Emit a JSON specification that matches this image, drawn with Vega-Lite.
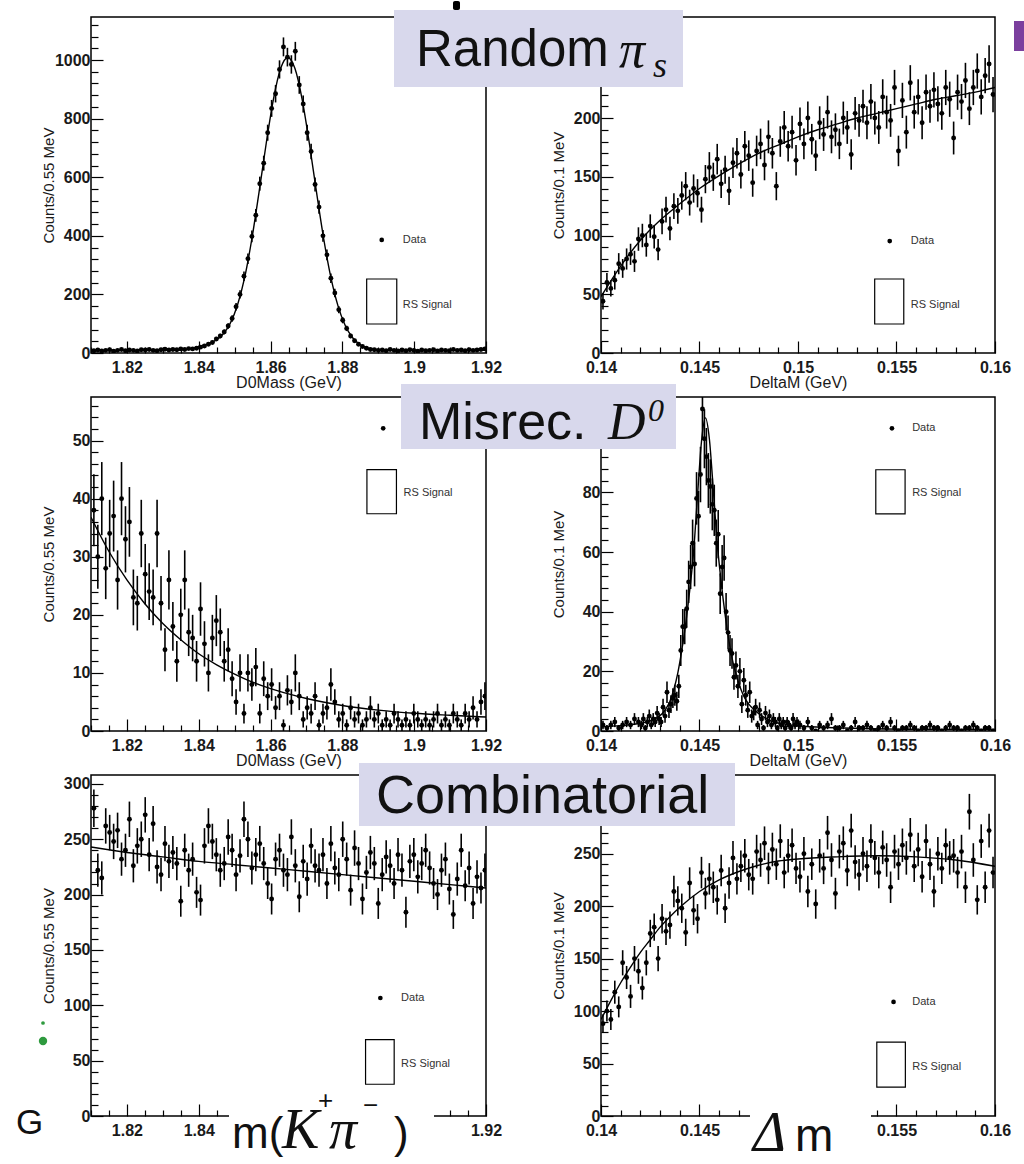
{
"$schema": "https://vega.github.io/schema/vega-lite/v6.json",
"padding": {"left": 15, "top": 0, "right": 0, "bottom": 0},
"background": "white",
"columns": 2,
"spacing": {"row": 44, "column": 115},
"bounds": "flush",
"datasets": {
"d1": [{"x":1.8108,"y":8,"e":2.8},{"x":1.8119,"y":10,"e":3.2},{"x":1.813,"y":7,"e":2.6},{"x":1.8141,"y":9,"e":3},{"x":1.8152,"y":11,"e":3.3},{"x":1.8163,"y":6,"e":2.4},{"x":1.8174,"y":9,"e":3},{"x":1.8185,"y":12,"e":3.5},{"x":1.8196,"y":8,"e":2.8},{"x":1.8207,"y":10,"e":3.2},{"x":1.8218,"y":9,"e":3},{"x":1.8229,"y":7,"e":2.6},{"x":1.824,"y":11,"e":3.3},{"x":1.8251,"y":10,"e":3.2},{"x":1.8262,"y":12,"e":3.5},{"x":1.8273,"y":9,"e":3},{"x":1.8284,"y":8,"e":2.8},{"x":1.8295,"y":11,"e":3.3},{"x":1.8306,"y":13,"e":3.6},{"x":1.8317,"y":10,"e":3.2},{"x":1.8328,"y":12,"e":3.5},{"x":1.8339,"y":11,"e":3.3},{"x":1.835,"y":14,"e":3.7},{"x":1.8361,"y":12,"e":3.5},{"x":1.8372,"y":15,"e":3.9},{"x":1.8383,"y":14,"e":3.7},{"x":1.8394,"y":16,"e":4},{"x":1.8405,"y":20,"e":4.5},{"x":1.8416,"y":24,"e":4.9},{"x":1.8427,"y":30,"e":5.5},{"x":1.8438,"y":36,"e":6},{"x":1.8449,"y":48,"e":6.9},{"x":1.846,"y":58,"e":7.6},{"x":1.8471,"y":72,"e":8.5},{"x":1.8482,"y":92,"e":9.6},{"x":1.8493,"y":118,"e":10.9},{"x":1.8504,"y":158,"e":12.6},{"x":1.8515,"y":200,"e":14.1},{"x":1.8526,"y":262,"e":16.2},{"x":1.8537,"y":322,"e":17.9},{"x":1.8548,"y":398,"e":19.9},{"x":1.8559,"y":470,"e":21.7},{"x":1.857,"y":578,"e":24},{"x":1.8581,"y":648,"e":25.5},{"x":1.8592,"y":752,"e":27.4},{"x":1.8603,"y":835,"e":28.9},{"x":1.8614,"y":885,"e":29.7},{"x":1.8625,"y":968,"e":31.1},{"x":1.8636,"y":1045,"e":32.3},{"x":1.8647,"y":1010,"e":31.8},{"x":1.8658,"y":985,"e":31.4},{"x":1.8669,"y":1030,"e":32.1},{"x":1.868,"y":915,"e":30.2},{"x":1.8691,"y":850,"e":29.2},{"x":1.8702,"y":752,"e":27.4},{"x":1.8713,"y":688,"e":26.2},{"x":1.8724,"y":575,"e":24},{"x":1.8735,"y":498,"e":22.3},{"x":1.8746,"y":400,"e":20},{"x":1.8757,"y":335,"e":18.3},{"x":1.8768,"y":255,"e":16},{"x":1.8779,"y":205,"e":14.3},{"x":1.879,"y":148,"e":12.2},{"x":1.8801,"y":112,"e":10.6},{"x":1.8812,"y":84,"e":9.2},{"x":1.8823,"y":58,"e":7.6},{"x":1.8834,"y":42,"e":6.5},{"x":1.8845,"y":30,"e":5.5},{"x":1.8856,"y":22,"e":4.7},{"x":1.8867,"y":16,"e":4},{"x":1.8878,"y":12,"e":3.5},{"x":1.8889,"y":11,"e":3.3},{"x":1.89,"y":9,"e":3},{"x":1.8911,"y":10,"e":3.2},{"x":1.8922,"y":8,"e":2.8},{"x":1.8933,"y":12,"e":3.5},{"x":1.8944,"y":9,"e":3},{"x":1.8955,"y":7,"e":2.6},{"x":1.8966,"y":10,"e":3.2},{"x":1.8977,"y":8,"e":2.8},{"x":1.8988,"y":11,"e":3.3},{"x":1.8999,"y":9,"e":3},{"x":1.901,"y":6,"e":2.4},{"x":1.9021,"y":10,"e":3.2},{"x":1.9032,"y":8,"e":2.8},{"x":1.9043,"y":9,"e":3},{"x":1.9054,"y":11,"e":3.3},{"x":1.9065,"y":7,"e":2.6},{"x":1.9076,"y":10,"e":3.2},{"x":1.9087,"y":9,"e":3},{"x":1.9098,"y":8,"e":2.8},{"x":1.9109,"y":12,"e":3.5},{"x":1.912,"y":9,"e":3},{"x":1.9131,"y":10,"e":3.2},{"x":1.9142,"y":8,"e":2.8},{"x":1.9153,"y":11,"e":3.3},{"x":1.9164,"y":9,"e":3},{"x":1.9175,"y":10,"e":3.2},{"x":1.9186,"y":12,"e":3.5},{"x":1.9197,"y":14,"e":3.7}],
"f1": [{"x":1.81,"y":9},{"x":1.83,"y":9},{"x":1.836,"y":11},{"x":1.8408,"y":25},{"x":1.8428,"y":32},{"x":1.8448,"y":44},{"x":1.8468,"y":65},{"x":1.8488,"y":102},{"x":1.8508,"y":164},{"x":1.8528,"y":258},{"x":1.8548,"y":390},{"x":1.8568,"y":549},{"x":1.8588,"y":716},{"x":1.8608,"y":866},{"x":1.8628,"y":971},{"x":1.8648,"y":1009},{"x":1.8668,"y":971},{"x":1.8688,"y":866},{"x":1.8708,"y":716},{"x":1.8728,"y":549},{"x":1.8748,"y":390},{"x":1.8768,"y":258},{"x":1.8788,"y":160},{"x":1.8808,"y":94},{"x":1.8828,"y":53},{"x":1.8848,"y":30},{"x":1.8868,"y":18},{"x":1.8888,"y":13},{"x":1.8918,"y":10},{"x":1.9,"y":9},{"x":1.92,"y":9}],
"d2": [{"x":0.1401,"y":44,"e":7},{"x":0.1403,"y":60,"e":8},{"x":0.1405,"y":55,"e":7},{"x":0.1407,"y":62,"e":8},{"x":0.1409,"y":76,"e":9},{"x":0.1411,"y":72,"e":8},{"x":0.1413,"y":80,"e":9},{"x":0.1415,"y":84,"e":9},{"x":0.1417,"y":78,"e":9},{"x":0.1419,"y":97,"e":10},{"x":0.1421,"y":100,"e":10},{"x":0.1423,"y":92,"e":10},{"x":0.1425,"y":108,"e":10},{"x":0.1427,"y":99,"e":10},{"x":0.1429,"y":88,"e":9},{"x":0.1431,"y":112,"e":11},{"x":0.1433,"y":122,"e":11},{"x":0.1435,"y":106,"e":10},{"x":0.1437,"y":125,"e":11},{"x":0.1439,"y":121,"e":11},{"x":0.1441,"y":134,"e":12},{"x":0.1443,"y":142,"e":12},{"x":0.1445,"y":128,"e":11},{"x":0.1447,"y":140,"e":12},{"x":0.1449,"y":136,"e":12},{"x":0.1451,"y":122,"e":11},{"x":0.1453,"y":148,"e":12},{"x":0.1455,"y":158,"e":13},{"x":0.1457,"y":150,"e":12},{"x":0.1459,"y":165,"e":13},{"x":0.1461,"y":144,"e":12},{"x":0.1463,"y":156,"e":12},{"x":0.1465,"y":138,"e":12},{"x":0.1467,"y":162,"e":13},{"x":0.1469,"y":170,"e":13},{"x":0.1471,"y":152,"e":12},{"x":0.1473,"y":176,"e":13},{"x":0.1475,"y":168,"e":13},{"x":0.1477,"y":145,"e":12},{"x":0.1479,"y":172,"e":13},{"x":0.1481,"y":178,"e":13},{"x":0.1483,"y":160,"e":13},{"x":0.1485,"y":184,"e":14},{"x":0.1487,"y":170,"e":13},{"x":0.1489,"y":142,"e":12},{"x":0.1491,"y":180,"e":13},{"x":0.1493,"y":192,"e":14},{"x":0.1495,"y":176,"e":13},{"x":0.1497,"y":188,"e":14},{"x":0.1499,"y":164,"e":13},{"x":0.1501,"y":195,"e":14},{"x":0.1503,"y":178,"e":13},{"x":0.1505,"y":200,"e":14},{"x":0.1507,"y":182,"e":13},{"x":0.1509,"y":168,"e":13},{"x":0.1511,"y":196,"e":14},{"x":0.1513,"y":186,"e":14},{"x":0.1515,"y":205,"e":14},{"x":0.1517,"y":184,"e":14},{"x":0.1519,"y":190,"e":14},{"x":0.1521,"y":178,"e":13},{"x":0.1523,"y":200,"e":14},{"x":0.1525,"y":192,"e":14},{"x":0.1527,"y":169,"e":13},{"x":0.1529,"y":204,"e":14},{"x":0.1531,"y":198,"e":14},{"x":0.1533,"y":210,"e":14},{"x":0.1535,"y":196,"e":14},{"x":0.1537,"y":214,"e":15},{"x":0.1539,"y":200,"e":14},{"x":0.1541,"y":192,"e":14},{"x":0.1543,"y":218,"e":15},{"x":0.1545,"y":205,"e":14},{"x":0.1547,"y":198,"e":14},{"x":0.1549,"y":226,"e":15},{"x":0.1551,"y":172,"e":13},{"x":0.1553,"y":215,"e":15},{"x":0.1555,"y":188,"e":14},{"x":0.1557,"y":230,"e":15},{"x":0.1559,"y":205,"e":14},{"x":0.1561,"y":218,"e":15},{"x":0.1563,"y":196,"e":14},{"x":0.1565,"y":222,"e":15},{"x":0.1567,"y":210,"e":14},{"x":0.1569,"y":224,"e":15},{"x":0.1571,"y":212,"e":15},{"x":0.1573,"y":204,"e":14},{"x":0.1575,"y":226,"e":15},{"x":0.1577,"y":216,"e":15},{"x":0.1579,"y":183,"e":14},{"x":0.1581,"y":222,"e":15},{"x":0.1583,"y":214,"e":15},{"x":0.1585,"y":232,"e":15},{"x":0.1587,"y":208,"e":14},{"x":0.1589,"y":226,"e":15},{"x":0.1591,"y":240,"e":15},{"x":0.1593,"y":218,"e":15},{"x":0.1595,"y":236,"e":15},{"x":0.1597,"y":246,"e":16},{"x":0.1599,"y":220,"e":15}],
"f2": [{"x":0.14,"y":48},{"x":0.141,"y":74},{"x":0.142,"y":96},{"x":0.143,"y":113},{"x":0.144,"y":127},{"x":0.145,"y":140},{"x":0.146,"y":151},{"x":0.147,"y":161},{"x":0.148,"y":170},{"x":0.149,"y":177},{"x":0.15,"y":184},{"x":0.151,"y":190},{"x":0.152,"y":195},{"x":0.153,"y":200},{"x":0.154,"y":204},{"x":0.155,"y":208},{"x":0.156,"y":212},{"x":0.157,"y":216},{"x":0.158,"y":219},{"x":0.159,"y":222},{"x":0.16,"y":226}],
"d3": [{"x":1.8108,"y":38,"e":6.2},{"x":1.8119,"y":30,"e":5.5},{"x":1.813,"y":40,"e":6.3},{"x":1.8141,"y":28,"e":5.3},{"x":1.8152,"y":34,"e":5.8},{"x":1.8163,"y":37,"e":6.1},{"x":1.8174,"y":26,"e":5.1},{"x":1.8185,"y":40,"e":6.3},{"x":1.8196,"y":33,"e":5.7},{"x":1.8207,"y":36,"e":6},{"x":1.8218,"y":23,"e":4.8},{"x":1.8229,"y":22,"e":4.7},{"x":1.824,"y":34,"e":5.8},{"x":1.8251,"y":27,"e":5.2},{"x":1.8262,"y":24,"e":4.9},{"x":1.8273,"y":23,"e":4.8},{"x":1.8284,"y":34,"e":5.8},{"x":1.8295,"y":22,"e":4.7},{"x":1.8306,"y":14,"e":3.7},{"x":1.8317,"y":26,"e":5.1},{"x":1.8328,"y":18,"e":4.2},{"x":1.8339,"y":12,"e":3.5},{"x":1.835,"y":20,"e":4.5},{"x":1.8361,"y":26,"e":5.1},{"x":1.8372,"y":17,"e":4.1},{"x":1.8383,"y":16,"e":4},{"x":1.8394,"y":12,"e":3.5},{"x":1.8405,"y":21,"e":4.6},{"x":1.8416,"y":15,"e":3.9},{"x":1.8427,"y":10,"e":3.2},{"x":1.8438,"y":16,"e":4},{"x":1.8449,"y":19,"e":4.4},{"x":1.846,"y":17,"e":4.1},{"x":1.8471,"y":12,"e":3.5},{"x":1.8482,"y":14,"e":3.7},{"x":1.8493,"y":9,"e":3},{"x":1.8504,"y":5,"e":2.2},{"x":1.8515,"y":10,"e":3.2},{"x":1.8526,"y":3,"e":1.7},{"x":1.8537,"y":10,"e":3.2},{"x":1.8548,"y":8,"e":2.8},{"x":1.8559,"y":11,"e":3.3},{"x":1.857,"y":3,"e":1.7},{"x":1.8581,"y":9,"e":3},{"x":1.8592,"y":6,"e":2.4},{"x":1.8603,"y":8,"e":2.8},{"x":1.8614,"y":4,"e":2},{"x":1.8625,"y":6,"e":2.4},{"x":1.8636,"y":1,"e":1},{"x":1.8647,"y":7,"e":2.6},{"x":1.8658,"y":5,"e":2.2},{"x":1.8669,"y":10,"e":3.2},{"x":1.868,"y":6,"e":2.4},{"x":1.8691,"y":2,"e":1.4},{"x":1.8702,"y":4,"e":2},{"x":1.8713,"y":3,"e":1.7},{"x":1.8724,"y":6,"e":2.4},{"x":1.8735,"y":1,"e":1},{"x":1.8746,"y":3,"e":1.7},{"x":1.8757,"y":4,"e":2},{"x":1.8768,"y":8,"e":2.8},{"x":1.8779,"y":5,"e":2.2},{"x":1.879,"y":2,"e":1.4},{"x":1.8801,"y":3,"e":1.7},{"x":1.8812,"y":1,"e":1},{"x":1.8823,"y":4,"e":2},{"x":1.8834,"y":2,"e":1.4},{"x":1.8845,"y":3,"e":1.7},{"x":1.8856,"y":1,"e":1},{"x":1.8867,"y":2,"e":1.4},{"x":1.8878,"y":4,"e":2},{"x":1.8889,"y":2,"e":1.4},{"x":1.89,"y":3,"e":1.7},{"x":1.8911,"y":1,"e":1},{"x":1.8922,"y":2,"e":1.4},{"x":1.8933,"y":1,"e":1},{"x":1.8944,"y":3,"e":1.7},{"x":1.8955,"y":2,"e":1.4},{"x":1.8966,"y":1,"e":1},{"x":1.8977,"y":2,"e":1.4},{"x":1.8988,"y":1,"e":1},{"x":1.8999,"y":3,"e":1.7},{"x":1.901,"y":2,"e":1.4},{"x":1.9021,"y":1,"e":1},{"x":1.9032,"y":2,"e":1.4},{"x":1.9043,"y":1,"e":1},{"x":1.9054,"y":2,"e":1.4},{"x":1.9065,"y":3,"e":1.7},{"x":1.9076,"y":1,"e":1},{"x":1.9087,"y":2,"e":1.4},{"x":1.9098,"y":1,"e":1},{"x":1.9109,"y":3,"e":1.7},{"x":1.912,"y":2,"e":1.4},{"x":1.9131,"y":1,"e":1},{"x":1.9142,"y":3,"e":1.7},{"x":1.9153,"y":2,"e":1.4},{"x":1.9164,"y":4,"e":2},{"x":1.9175,"y":2,"e":1.4},{"x":1.9186,"y":5,"e":2.2},{"x":1.9197,"y":6,"e":2.4}],
"f3": [{"x":1.81,"y":36.8},{"x":1.815,"y":30.9},{"x":1.82,"y":26},{"x":1.825,"y":21.9},{"x":1.83,"y":18.5},{"x":1.835,"y":15.7},{"x":1.84,"y":13.3},{"x":1.845,"y":11.4},{"x":1.85,"y":9.8},{"x":1.855,"y":8.4},{"x":1.86,"y":7.3},{"x":1.865,"y":6.4},{"x":1.87,"y":5.6},{"x":1.88,"y":4.4},{"x":1.89,"y":3.6},{"x":1.9,"y":3.05},{"x":1.91,"y":2.7},{"x":1.92,"y":2.4}],
"d4": [{"x":0.1401,"y":2,"e":1.4},{"x":0.1403,"y":1,"e":1},{"x":0.1405,"y":2,"e":1.4},{"x":0.1407,"y":3,"e":1.7},{"x":0.1409,"y":1,"e":1},{"x":0.1411,"y":2,"e":1.4},{"x":0.1413,"y":3,"e":1.7},{"x":0.1415,"y":2,"e":1.4},{"x":0.1417,"y":4,"e":2},{"x":0.1419,"y":3,"e":1.7},{"x":0.14205,"y":2,"e":1.4},{"x":0.14215,"y":4,"e":2},{"x":0.14225,"y":1,"e":1},{"x":0.14235,"y":3,"e":1.7},{"x":0.14245,"y":5,"e":2.2},{"x":0.14255,"y":2,"e":1.4},{"x":0.14265,"y":4,"e":2},{"x":0.14275,"y":3,"e":1.7},{"x":0.14285,"y":6,"e":2.4},{"x":0.14295,"y":4,"e":2},{"x":0.14305,"y":3,"e":1.7},{"x":0.14315,"y":8,"e":2.8},{"x":0.14325,"y":5,"e":2.2},{"x":0.14335,"y":13,"e":3.6},{"x":0.14345,"y":7,"e":2.6},{"x":0.14355,"y":9,"e":3},{"x":0.14365,"y":11,"e":3.3},{"x":0.14375,"y":12,"e":3.5},{"x":0.14385,"y":10,"e":3.2},{"x":0.14395,"y":15,"e":3.9},{"x":0.14405,"y":27,"e":5.2},{"x":0.14415,"y":35,"e":5.9},{"x":0.14425,"y":35,"e":5.9},{"x":0.14435,"y":41,"e":6.4},{"x":0.14445,"y":50,"e":7.1},{"x":0.14455,"y":55,"e":7.4},{"x":0.14465,"y":63,"e":7.9},{"x":0.14475,"y":56,"e":7.5},{"x":0.14485,"y":78,"e":8.8},{"x":0.14495,"y":72,"e":8.5},{"x":0.14505,"y":86,"e":9.3},{"x":0.14515,"y":108,"e":10.4},{"x":0.14525,"y":98,"e":9.9},{"x":0.14535,"y":92,"e":9.6},{"x":0.14545,"y":84,"e":9.2},{"x":0.14555,"y":82,"e":9.1},{"x":0.14565,"y":76,"e":8.7},{"x":0.14575,"y":74,"e":8.6},{"x":0.14585,"y":63,"e":7.9},{"x":0.14595,"y":66,"e":8.1},{"x":0.14605,"y":46,"e":6.8},{"x":0.14615,"y":55,"e":7.4},{"x":0.14625,"y":58,"e":7.6},{"x":0.14635,"y":40,"e":6.3},{"x":0.14645,"y":33,"e":5.7},{"x":0.14655,"y":27,"e":5.2},{"x":0.14665,"y":26,"e":5.1},{"x":0.14675,"y":18,"e":4.2},{"x":0.14685,"y":22,"e":4.7},{"x":0.14695,"y":15,"e":3.9},{"x":0.14705,"y":20,"e":4.5},{"x":0.14715,"y":9,"e":3},{"x":0.14725,"y":17,"e":4.1},{"x":0.14735,"y":12,"e":3.5},{"x":0.14745,"y":7,"e":2.6},{"x":0.14755,"y":13,"e":3.6},{"x":0.14765,"y":5,"e":2.2},{"x":0.14775,"y":6,"e":2.4},{"x":0.14785,"y":8,"e":2.8},{"x":0.14795,"y":2,"e":1.4},{"x":0.14805,"y":7,"e":2.6},{"x":0.14815,"y":4,"e":2},{"x":0.14825,"y":1,"e":1},{"x":0.14835,"y":6,"e":2.4},{"x":0.14845,"y":3,"e":1.7},{"x":0.14855,"y":5,"e":2.2},{"x":0.14865,"y":2,"e":1.4},{"x":0.14875,"y":4,"e":2},{"x":0.14885,"y":3,"e":1.7},{"x":0.14895,"y":1,"e":1},{"x":0.14905,"y":4,"e":2},{"x":0.14915,"y":2,"e":1.4},{"x":0.14925,"y":3,"e":1.7},{"x":0.14935,"y":1,"e":1},{"x":0.14945,"y":3,"e":1.7},{"x":0.14955,"y":2,"e":1.4},{"x":0.14965,"y":1,"e":1},{"x":0.14975,"y":4,"e":2},{"x":0.14985,"y":2,"e":1.4},{"x":0.14995,"y":3,"e":1.7},{"x":0.1501,"y":2,"e":1.4},{"x":0.1503,"y":1,"e":1},{"x":0.1505,"y":3,"e":1.7},{"x":0.1507,"y":1,"e":1},{"x":0.1509,"y":0,"e":0},{"x":0.1511,"y":2,"e":1.4},{"x":0.1513,"y":1,"e":1},{"x":0.1515,"y":2,"e":1.4},{"x":0.1517,"y":4,"e":2},{"x":0.1519,"y":1,"e":1},{"x":0.1521,"y":1,"e":1},{"x":0.1523,"y":2,"e":1.4},{"x":0.1525,"y":0,"e":0},{"x":0.1527,"y":1,"e":1},{"x":0.1529,"y":3,"e":1.7},{"x":0.1531,"y":1,"e":1},{"x":0.1533,"y":1,"e":1},{"x":0.1535,"y":2,"e":1.4},{"x":0.1537,"y":1,"e":1},{"x":0.1539,"y":0,"e":0},{"x":0.1541,"y":1,"e":1},{"x":0.1543,"y":2,"e":1.4},{"x":0.1545,"y":1,"e":1},{"x":0.1547,"y":3,"e":1.7},{"x":0.1549,"y":1,"e":1},{"x":0.1551,"y":0,"e":0},{"x":0.1553,"y":1,"e":1},{"x":0.1555,"y":1,"e":1},{"x":0.1557,"y":2,"e":1.4},{"x":0.1559,"y":1,"e":1},{"x":0.1561,"y":0,"e":0},{"x":0.1563,"y":1,"e":1},{"x":0.1565,"y":1,"e":1},{"x":0.1567,"y":2,"e":1.4},{"x":0.1569,"y":1,"e":1},{"x":0.1571,"y":1,"e":1},{"x":0.1573,"y":0,"e":0},{"x":0.1575,"y":1,"e":1},{"x":0.1577,"y":2,"e":1.4},{"x":0.1579,"y":1,"e":1},{"x":0.1581,"y":1,"e":1},{"x":0.1583,"y":0,"e":0},{"x":0.1585,"y":1,"e":1},{"x":0.1587,"y":1,"e":1},{"x":0.1589,"y":2,"e":1.4},{"x":0.1591,"y":1,"e":1},{"x":0.1593,"y":0,"e":0},{"x":0.1595,"y":1,"e":1},{"x":0.1597,"y":1,"e":1},{"x":0.1599,"y":0,"e":0}],
"f4": [{"x":0.14,"y":1.4},{"x":0.141,"y":1.8},{"x":0.142,"y":2.6},{"x":0.1428,"y":4.3},{"x":0.1431,"y":5.8},{"x":0.1433,"y":7.5},{"x":0.1435,"y":10},{"x":0.1437,"y":14},{"x":0.1439,"y":19.5},{"x":0.1441,"y":27},{"x":0.1443,"y":36},{"x":0.1445,"y":47},{"x":0.1447,"y":60},{"x":0.1449,"y":79},{"x":0.1451,"y":97},{"x":0.1453,"y":105},{"x":0.1455,"y":98},{"x":0.1457,"y":81},{"x":0.1459,"y":63},{"x":0.1461,"y":50},{"x":0.1463,"y":39},{"x":0.1465,"y":30},{"x":0.1467,"y":23},{"x":0.1469,"y":18},{"x":0.1471,"y":14},{"x":0.1473,"y":11},{"x":0.1475,"y":9},{"x":0.1478,"y":7},{"x":0.1483,"y":4.5},{"x":0.1488,"y":3},{"x":0.1493,"y":2.3},{"x":0.1503,"y":1.6},{"x":0.1523,"y":1},{"x":0.1553,"y":0.6},{"x":0.16,"y":0.5}],
"d5": [{"x":1.8108,"y":278,"e":17},{"x":1.8119,"y":222,"e":15},{"x":1.813,"y":215,"e":15},{"x":1.8141,"y":262,"e":16},{"x":1.8152,"y":256,"e":16},{"x":1.8163,"y":248,"e":16},{"x":1.8174,"y":258,"e":16},{"x":1.8185,"y":232,"e":15},{"x":1.8196,"y":240,"e":15},{"x":1.8207,"y":268,"e":16},{"x":1.8218,"y":226,"e":15},{"x":1.8229,"y":244,"e":16},{"x":1.824,"y":250,"e":16},{"x":1.8251,"y":272,"e":16},{"x":1.8262,"y":236,"e":15},{"x":1.8273,"y":264,"e":16},{"x":1.8284,"y":225,"e":15},{"x":1.8295,"y":218,"e":15},{"x":1.8306,"y":246,"e":16},{"x":1.8317,"y":230,"e":15},{"x":1.8328,"y":238,"e":15},{"x":1.8339,"y":228,"e":15},{"x":1.835,"y":194,"e":14},{"x":1.8361,"y":240,"e":15},{"x":1.8372,"y":222,"e":15},{"x":1.8383,"y":232,"e":15},{"x":1.8394,"y":202,"e":14},{"x":1.8405,"y":195,"e":14},{"x":1.8416,"y":244,"e":16},{"x":1.8427,"y":262,"e":16},{"x":1.8438,"y":248,"e":16},{"x":1.8449,"y":236,"e":15},{"x":1.846,"y":222,"e":15},{"x":1.8471,"y":228,"e":15},{"x":1.8482,"y":252,"e":16},{"x":1.8493,"y":240,"e":15},{"x":1.8504,"y":218,"e":15},{"x":1.8515,"y":235,"e":15},{"x":1.8526,"y":268,"e":16},{"x":1.8537,"y":250,"e":16},{"x":1.8548,"y":224,"e":15},{"x":1.8559,"y":236,"e":15},{"x":1.857,"y":246,"e":16},{"x":1.8581,"y":228,"e":15},{"x":1.8592,"y":210,"e":14},{"x":1.8603,"y":196,"e":14},{"x":1.8614,"y":232,"e":15},{"x":1.8625,"y":240,"e":15},{"x":1.8636,"y":222,"e":15},{"x":1.8647,"y":218,"e":15},{"x":1.8658,"y":252,"e":16},{"x":1.8669,"y":226,"e":15},{"x":1.868,"y":198,"e":14},{"x":1.8691,"y":230,"e":15},{"x":1.8702,"y":214,"e":15},{"x":1.8713,"y":244,"e":16},{"x":1.8724,"y":226,"e":15},{"x":1.8735,"y":222,"e":15},{"x":1.8746,"y":236,"e":15},{"x":1.8757,"y":210,"e":14},{"x":1.8768,"y":246,"e":16},{"x":1.8779,"y":224,"e":15},{"x":1.879,"y":218,"e":15},{"x":1.8801,"y":250,"e":16},{"x":1.8812,"y":232,"e":15},{"x":1.8823,"y":204,"e":14},{"x":1.8834,"y":242,"e":16},{"x":1.8845,"y":228,"e":15},{"x":1.8856,"y":196,"e":14},{"x":1.8867,"y":220,"e":15},{"x":1.8878,"y":238,"e":15},{"x":1.8889,"y":228,"e":15},{"x":1.89,"y":192,"e":14},{"x":1.8911,"y":218,"e":15},{"x":1.8922,"y":234,"e":15},{"x":1.8933,"y":226,"e":15},{"x":1.8944,"y":210,"e":14},{"x":1.8955,"y":236,"e":15},{"x":1.8966,"y":222,"e":15},{"x":1.8977,"y":184,"e":14},{"x":1.8988,"y":230,"e":15},{"x":1.8999,"y":236,"e":15},{"x":1.901,"y":216,"e":15},{"x":1.9021,"y":228,"e":15},{"x":1.9032,"y":240,"e":15},{"x":1.9043,"y":224,"e":15},{"x":1.9054,"y":210,"e":14},{"x":1.9065,"y":200,"e":14},{"x":1.9076,"y":222,"e":15},{"x":1.9087,"y":232,"e":15},{"x":1.9098,"y":205,"e":14},{"x":1.9109,"y":182,"e":13},{"x":1.912,"y":214,"e":15},{"x":1.9131,"y":240,"e":15},{"x":1.9142,"y":208,"e":14},{"x":1.9153,"y":224,"e":15},{"x":1.9164,"y":192,"e":14},{"x":1.9175,"y":216,"e":15},{"x":1.9186,"y":206,"e":14},{"x":1.9197,"y":222,"e":15}],
"f5": [{"x":1.81,"y":243},{"x":1.82,"y":238},{"x":1.83,"y":234},{"x":1.84,"y":230},{"x":1.85,"y":227},{"x":1.86,"y":224},{"x":1.87,"y":221},{"x":1.88,"y":218},{"x":1.89,"y":215},{"x":1.9,"y":212},{"x":1.91,"y":209},{"x":1.92,"y":206}],
"d6": [{"x":0.1401,"y":88,"e":9},{"x":0.1403,"y":100,"e":10},{"x":0.1405,"y":92,"e":10},{"x":0.1407,"y":118,"e":11},{"x":0.1409,"y":104,"e":10},{"x":0.1411,"y":146,"e":12},{"x":0.1413,"y":132,"e":11},{"x":0.1415,"y":114,"e":11},{"x":0.1417,"y":150,"e":12},{"x":0.1419,"y":138,"e":12},{"x":0.1421,"y":122,"e":11},{"x":0.1423,"y":146,"e":12},{"x":0.1425,"y":174,"e":13},{"x":0.1427,"y":180,"e":13},{"x":0.1429,"y":150,"e":12},{"x":0.1431,"y":188,"e":14},{"x":0.1433,"y":176,"e":13},{"x":0.1435,"y":182,"e":13},{"x":0.1437,"y":214,"e":15},{"x":0.1439,"y":205,"e":14},{"x":0.1441,"y":198,"e":14},{"x":0.1443,"y":175,"e":13},{"x":0.1445,"y":222,"e":15},{"x":0.1447,"y":196,"e":14},{"x":0.1449,"y":188,"e":14},{"x":0.1451,"y":232,"e":15},{"x":0.1453,"y":212,"e":15},{"x":0.1455,"y":226,"e":15},{"x":0.1457,"y":218,"e":15},{"x":0.1459,"y":206,"e":14},{"x":0.1461,"y":234,"e":15},{"x":0.1463,"y":198,"e":14},{"x":0.1465,"y":222,"e":15},{"x":0.1467,"y":246,"e":16},{"x":0.1469,"y":226,"e":15},{"x":0.1471,"y":238,"e":15},{"x":0.1473,"y":248,"e":16},{"x":0.1475,"y":230,"e":15},{"x":0.1477,"y":226,"e":15},{"x":0.1479,"y":252,"e":16},{"x":0.1481,"y":244,"e":16},{"x":0.1483,"y":260,"e":16},{"x":0.1485,"y":236,"e":15},{"x":0.1487,"y":254,"e":16},{"x":0.1489,"y":240,"e":15},{"x":0.1491,"y":262,"e":16},{"x":0.1493,"y":232,"e":15},{"x":0.1495,"y":248,"e":16},{"x":0.1497,"y":258,"e":16},{"x":0.1499,"y":236,"e":15},{"x":0.1501,"y":228,"e":15},{"x":0.1503,"y":250,"e":16},{"x":0.1505,"y":214,"e":15},{"x":0.1507,"y":240,"e":15},{"x":0.1509,"y":202,"e":14},{"x":0.1511,"y":248,"e":16},{"x":0.1513,"y":236,"e":15},{"x":0.1515,"y":270,"e":16},{"x":0.1517,"y":244,"e":16},{"x":0.1519,"y":212,"e":15},{"x":0.1521,"y":252,"e":16},{"x":0.1523,"y":260,"e":16},{"x":0.1525,"y":234,"e":15},{"x":0.1527,"y":272,"e":16},{"x":0.1529,"y":242,"e":16},{"x":0.1531,"y":230,"e":15},{"x":0.1533,"y":250,"e":16},{"x":0.1535,"y":238,"e":15},{"x":0.1537,"y":262,"e":16},{"x":0.1539,"y":246,"e":16},{"x":0.1541,"y":232,"e":15},{"x":0.1543,"y":256,"e":16},{"x":0.1545,"y":244,"e":16},{"x":0.1547,"y":218,"e":15},{"x":0.1549,"y":252,"e":16},{"x":0.1551,"y":240,"e":15},{"x":0.1553,"y":258,"e":16},{"x":0.1555,"y":246,"e":16},{"x":0.1557,"y":268,"e":16},{"x":0.1559,"y":238,"e":15},{"x":0.1561,"y":254,"e":16},{"x":0.1563,"y":228,"e":15},{"x":0.1565,"y":262,"e":16},{"x":0.1567,"y":240,"e":15},{"x":0.1569,"y":214,"e":15},{"x":0.1571,"y":250,"e":16},{"x":0.1573,"y":236,"e":15},{"x":0.1575,"y":258,"e":16},{"x":0.1577,"y":246,"e":16},{"x":0.1579,"y":248,"e":16},{"x":0.1581,"y":232,"e":15},{"x":0.1583,"y":252,"e":16},{"x":0.1585,"y":218,"e":15},{"x":0.1587,"y":290,"e":17},{"x":0.1589,"y":244,"e":16},{"x":0.1591,"y":206,"e":14},{"x":0.1593,"y":262,"e":16},{"x":0.1595,"y":218,"e":15},{"x":0.1597,"y":272,"e":16},{"x":0.1599,"y":232,"e":15}],
"f6": [{"x":0.14,"y":92},{"x":0.1405,"y":110},{"x":0.141,"y":127},{"x":0.1415,"y":142},{"x":0.142,"y":156},{"x":0.1425,"y":168},{"x":0.143,"y":180},{"x":0.1435,"y":190},{"x":0.144,"y":199},{"x":0.145,"y":214},{"x":0.146,"y":225},{"x":0.147,"y":233},{"x":0.148,"y":239},{"x":0.149,"y":243},{"x":0.15,"y":245},{"x":0.152,"y":247},{"x":0.154,"y":248},{"x":0.156,"y":247},{"x":0.158,"y":244},{"x":0.16,"y":238}]
},
"concat": [
{
"width": 395, "height": 336,
"layer": [
{"data": {"name": "d1"}, "mark": {"type": "errorbar", "color": "black", "thickness": 1.6, "clip": true},
 "encoding": {
  "x": {"field": "x", "type": "quantitative", "scale": {"domain": [1.81, 1.92], "nice": false, "zero": false},
   "axis": {"title": "D0Mass (GeV)", "values": [1.81,1.815,1.82,1.825,1.83,1.835,1.84,1.845,1.85,1.855,1.86,1.865,1.87,1.875,1.88,1.885,1.89,1.895,1.9,1.905,1.91,1.915,1.92], "format": ".3~f",
    "labelExpr": "abs(datum.value*50-round(datum.value*50))<1e-6 ? datum.label : ''",
    "tickSize": {"condition": {"test": "abs(datum.value*50-round(datum.value*50))<1e-6", "value": -12}, "value": -6}}},
  "y": {"field": "y", "type": "quantitative", "scale": {"domain": [0, 1147], "nice": false, "zero": false},
   "axis": {"title": "Counts/0.55 MeV", "values": [0,40,80,120,160,200,240,280,320,360,400,440,480,520,560,600,640,680,720,760,800,840,880,920,960,1000,1040,1080,1120], "format": "d",
    "labelExpr": "datum.value % 200 == 0 ? datum.label : ''",
    "tickSize": {"condition": {"test": "datum.value % 200 == 0", "value": -12}, "value": -7}}},
  "yError": {"field": "e"}}},
{"data": {"name": "d1"}, "mark": {"type": "point", "filled": true, "size": 24, "color": "black", "opacity": 1, "clip": true},
 "encoding": {"x": {"field": "x", "type": "quantitative"}, "y": {"field": "y", "type": "quantitative"}}},
{"data": {"name": "f1"}, "mark": {"type": "line", "color": "black", "strokeWidth": 1.4, "interpolate": "monotone", "clip": true},
 "encoding": {"x": {"field": "x", "type": "quantitative"}, "y": {"field": "y", "type": "quantitative"}}},
{"data": {"values": [{"t": "Data"}]}, "mark": {"type": "point", "filled": true, "size": 22, "color": "black", "opacity": 1},
 "encoding": {"x": {"datum": 1.89096, "type": "quantitative"}, "y": {"datum": 386, "type": "quantitative"}}},
{"data": {"values": [{"t": "Data"}]}, "mark": {"type": "text", "align": "left", "baseline": "middle", "fontSize": 11, "color": "#333"},
 "encoding": {"x": {"datum": 1.89682, "type": "quantitative"}, "y": {"datum": 386, "type": "quantitative"}, "text": {"field": "t"}}},
{"data": {"values": [{"t": "RS Signal"}]}, "mark": {"type": "rect", "fill": "white", "stroke": "black", "strokeWidth": 1.2},
 "encoding": {"x": {"datum": 1.88677, "type": "quantitative"}, "x2": {"datum": 1.89515}, "y": {"datum": 252.6, "type": "quantitative"}, "y2": {"datum": 99}}},
{"data": {"values": [{"t": "RS Signal"}]}, "mark": {"type": "text", "align": "left", "baseline": "middle", "fontSize": 11, "color": "#333"},
 "encoding": {"x": {"datum": 1.89682, "type": "quantitative"}, "y": {"datum": 163.9, "type": "quantitative"}, "text": {"field": "t"}}}
]
},
{
"width": 394, "height": 336,
"layer": [
{"data": {"name": "d2"}, "mark": {"type": "errorbar", "color": "black", "thickness": 1.6, "clip": true},
 "encoding": {
  "x": {"field": "x", "type": "quantitative", "scale": {"domain": [0.14, 0.16], "nice": false, "zero": false},
   "axis": {"title": "DeltaM (GeV)", "values": [0.14,0.141,0.142,0.143,0.144,0.145,0.146,0.147,0.148,0.149,0.15,0.151,0.152,0.153,0.154,0.155,0.156,0.157,0.158,0.159,0.16], "format": ".3~f",
    "labelExpr": "abs(datum.value*200-round(datum.value*200))<1e-6 ? datum.label : ''",
    "tickSize": {"condition": {"test": "abs(datum.value*200-round(datum.value*200))<1e-6", "value": -12}, "value": -6}}},
  "y": {"field": "y", "type": "quantitative", "scale": {"domain": [0, 286], "nice": false, "zero": false},
   "axis": {"title": "Counts/0.1 MeV", "values": [0,10,20,30,40,50,60,70,80,90,100,110,120,130,140,150,160,170,180,190,200,210,220,230,240,250,260,270,280], "format": "d",
    "labelExpr": "datum.value % 50 == 0 && datum.value != 250 ? datum.label : ''",
    "tickSize": {"condition": {"test": "datum.value % 50 == 0", "value": -12}, "value": -7}}},
  "yError": {"field": "e"}}},
{"data": {"name": "d2"}, "mark": {"type": "point", "filled": true, "size": 24, "color": "black", "opacity": 1, "clip": true},
 "encoding": {"x": {"field": "x", "type": "quantitative"}, "y": {"field": "y", "type": "quantitative"}}},
{"data": {"name": "f2"}, "mark": {"type": "line", "color": "black", "strokeWidth": 1.4, "interpolate": "monotone", "clip": true},
 "encoding": {"x": {"field": "x", "type": "quantitative"}, "y": {"field": "y", "type": "quantitative"}}},
{"data": {"values": [{"t": "Data"}]}, "mark": {"type": "point", "filled": true, "size": 22, "color": "black", "opacity": 1},
 "encoding": {"x": {"datum": 0.154656, "type": "quantitative"}, "y": {"datum": 95.3, "type": "quantitative"}}},
{"data": {"values": [{"t": "Data"}]}, "mark": {"type": "text", "align": "left", "baseline": "middle", "fontSize": 11, "color": "#333"},
 "encoding": {"x": {"datum": 0.155725, "type": "quantitative"}, "y": {"datum": 95.3, "type": "quantitative"}, "text": {"field": "t"}}},
{"data": {"values": [{"t": "RS Signal"}]}, "mark": {"type": "rect", "fill": "white", "stroke": "black", "strokeWidth": 1.2},
 "encoding": {"x": {"datum": 0.153893, "type": "quantitative"}, "x2": {"datum": 0.155369}, "y": {"datum": 63, "type": "quantitative"}, "y2": {"datum": 24.7}}},
{"data": {"values": [{"t": "RS Signal"}]}, "mark": {"type": "text", "align": "left", "baseline": "middle", "fontSize": 11, "color": "#333"},
 "encoding": {"x": {"datum": 0.155725, "type": "quantitative"}, "y": {"datum": 40.9, "type": "quantitative"}, "text": {"field": "t"}}},
{"data": {"values": [{"t": "Random box"}]}, "mark": {"type": "rect", "fill": "#d8d8ec", "clip": false},
 "encoding": {"x": {"datum": 0.129492, "type": "quantitative"}, "x2": {"datum": 0.144162}, "y": {"datum": 291.96, "type": "quantitative"}, "y2": {"datum": 226.42}}},
{"data": {"values": [{"t": "Random"}]}, "mark": {"type": "text", "align": "left", "baseline": "alphabetic", "fontSize": 51, "font": "Liberation Sans", "color": "#111", "clip": false},
 "encoding": {"x": {"datum": 0.130609, "type": "quantitative"}, "y": {"datum": 244.29, "type": "quantitative"}, "text": {"field": "t"}}},
{"data": {"values": [{"t": "π"}]}, "mark": {"type": "text", "align": "left", "baseline": "alphabetic", "fontSize": 52, "font": "Liberation Serif", "fontStyle": "italic", "color": "#111", "clip": false},
 "encoding": {"x": {"datum": 0.140914, "type": "quantitative"}, "y": {"datum": 243.44, "type": "quantitative"}, "text": {"field": "t"}}},
{"data": {"values": [{"t": "s"}]}, "mark": {"type": "text", "align": "left", "baseline": "alphabetic", "fontSize": 36, "font": "Liberation Serif", "fontStyle": "italic", "color": "#111", "clip": false},
 "encoding": {"x": {"datum": 0.142638, "type": "quantitative"}, "y": {"datum": 234.93, "type": "quantitative"}, "text": {"field": "t"}}},
{"data": {"values": [{"t": "mark"}]}, "mark": {"type": "rect", "fill": "black", "cornerRadius": 2, "clip": false},
 "encoding": {"x": {"datum": 0.132487, "type": "quantitative"}, "x2": {"datum": 0.132843}, "y": {"datum": 299.62, "type": "quantitative"}, "y2": {"datum": 291.96}}},
{"data": {"values": [{"t": "tab"}]}, "mark": {"type": "rect", "fill": "#7b3f9e", "clip": false},
 "encoding": {"x": {"datum": 0.160964, "type": "quantitative"}, "x2": {"datum": 0.161523}, "y": {"datum": 282.59, "type": "quantitative"}, "y2": {"datum": 257.06}}}
]
},
{
"width": 395, "height": 334,
"layer": [
{"data": {"name": "d3"}, "mark": {"type": "errorbar", "color": "black", "thickness": 1.6, "clip": true},
 "encoding": {
  "x": {"field": "x", "type": "quantitative", "scale": {"domain": [1.81, 1.92], "nice": false, "zero": false},
   "axis": {"title": "D0Mass (GeV)", "values": [1.81,1.815,1.82,1.825,1.83,1.835,1.84,1.845,1.85,1.855,1.86,1.865,1.87,1.875,1.88,1.885,1.89,1.895,1.9,1.905,1.91,1.915,1.92], "format": ".3~f",
    "labelExpr": "abs(datum.value*50-round(datum.value*50))<1e-6 ? datum.label : ''",
    "tickSize": {"condition": {"test": "abs(datum.value*50-round(datum.value*50))<1e-6", "value": -12}, "value": -6}}},
  "y": {"field": "y", "type": "quantitative", "scale": {"domain": [0, 57.5], "nice": false, "zero": false},
   "axis": {"title": "Counts/0.55 MeV", "values": [0,2,4,6,8,10,12,14,16,18,20,22,24,26,28,30,32,34,36,38,40,42,44,46,48,50,52,54,56], "format": "d",
    "labelExpr": "datum.value % 10 == 0 ? datum.label : ''",
    "tickSize": {"condition": {"test": "datum.value % 10 == 0", "value": -12}, "value": -7}}},
  "yError": {"field": "e"}}},
{"data": {"name": "d3"}, "mark": {"type": "point", "filled": true, "size": 24, "color": "black", "opacity": 1, "clip": true},
 "encoding": {"x": {"field": "x", "type": "quantitative"}, "y": {"field": "y", "type": "quantitative"}}},
{"data": {"name": "f3"}, "mark": {"type": "line", "color": "black", "strokeWidth": 1.4, "interpolate": "monotone", "clip": true},
 "encoding": {"x": {"field": "x", "type": "quantitative"}, "y": {"field": "y", "type": "quantitative"}}},
{"data": {"values": [{"t": "Data"}]}, "mark": {"type": "point", "filled": true, "size": 22, "color": "black", "opacity": 1},
 "encoding": {"x": {"datum": 1.89137, "type": "quantitative"}, "y": {"datum": 52.1, "type": "quantitative"}}},
{"data": {"values": [{"t": "RS Signal"}]}, "mark": {"type": "rect", "fill": "white", "stroke": "black", "strokeWidth": 1.2},
 "encoding": {"x": {"datum": 1.88684, "type": "quantitative"}, "x2": {"datum": 1.89506}, "y": {"datum": 45.0, "type": "quantitative"}, "y2": {"datum": 37.4}}},
{"data": {"values": [{"t": "RS Signal"}]}, "mark": {"type": "text", "align": "left", "baseline": "middle", "fontSize": 11, "color": "#333"},
 "encoding": {"x": {"datum": 1.89704, "type": "quantitative"}, "y": {"datum": 41.0, "type": "quantitative"}, "text": {"field": "t"}}}
]
},
{
"width": 394, "height": 334,
"layer": [
{"data": {"name": "d4"}, "mark": {"type": "errorbar", "color": "black", "thickness": 1.6, "clip": true},
 "encoding": {
  "x": {"field": "x", "type": "quantitative", "scale": {"domain": [0.14, 0.16], "nice": false, "zero": false},
   "axis": {"title": "DeltaM (GeV)", "values": [0.14,0.141,0.142,0.143,0.144,0.145,0.146,0.147,0.148,0.149,0.15,0.151,0.152,0.153,0.154,0.155,0.156,0.157,0.158,0.159,0.16], "format": ".3~f",
    "labelExpr": "abs(datum.value*200-round(datum.value*200))<1e-6 ? datum.label : ''",
    "tickSize": {"condition": {"test": "abs(datum.value*200-round(datum.value*200))<1e-6", "value": -12}, "value": -6}}},
  "y": {"field": "y", "type": "quantitative", "scale": {"domain": [0, 112], "nice": false, "zero": false},
   "axis": {"title": "Counts/0.1 MeV", "values": [0,4,8,12,16,20,24,28,32,36,40,44,48,52,56,60,64,68,72,76,80,84,88,92,96,100,104,108,112], "format": "d",
    "labelExpr": "datum.value % 20 == 0 && datum.value != 100 ? datum.label : ''",
    "tickSize": {"condition": {"test": "datum.value % 20 == 0", "value": -12}, "value": -7}}},
  "yError": {"field": "e"}}},
{"data": {"name": "d4"}, "mark": {"type": "point", "filled": true, "size": 24, "color": "black", "opacity": 1, "clip": true},
 "encoding": {"x": {"field": "x", "type": "quantitative"}, "y": {"field": "y", "type": "quantitative"}}},
{"data": {"name": "f4"}, "mark": {"type": "line", "color": "black", "strokeWidth": 1.4, "interpolate": "monotone", "clip": true},
 "encoding": {"x": {"field": "x", "type": "quantitative"}, "y": {"field": "y", "type": "quantitative"}}},
{"data": {"values": [{"t": "Data"}]}, "mark": {"type": "point", "filled": true, "size": 22, "color": "black", "opacity": 1},
 "encoding": {"x": {"datum": 0.154769, "type": "quantitative"}, "y": {"datum": 101.5, "type": "quantitative"}}},
{"data": {"values": [{"t": "Data"}]}, "mark": {"type": "text", "align": "left", "baseline": "middle", "fontSize": 11, "color": "#333"},
 "encoding": {"x": {"datum": 0.155795, "type": "quantitative"}, "y": {"datum": 101.5, "type": "quantitative"}, "text": {"field": "t"}}},
{"data": {"values": [{"t": "RS Signal"}]}, "mark": {"type": "rect", "fill": "white", "stroke": "black", "strokeWidth": 1.2},
 "encoding": {"x": {"datum": 0.153949, "type": "quantitative"}, "x2": {"datum": 0.155436}, "y": {"datum": 87.6, "type": "quantitative"}, "y2": {"datum": 72.8}}},
{"data": {"values": [{"t": "RS Signal"}]}, "mark": {"type": "text", "align": "left", "baseline": "middle", "fontSize": 11, "color": "#333"},
 "encoding": {"x": {"datum": 0.155795, "type": "quantitative"}, "y": {"datum": 79.9, "type": "quantitative"}, "text": {"field": "t"}}},
{"data": {"values": [{"t": "Misrec box"}]}, "mark": {"type": "rect", "fill": "#d8d8ec", "clip": false},
 "encoding": {"x": {"datum": 0.129848, "type": "quantitative"}, "x2": {"datum": 0.143807}, "y": {"datum": 116.36, "type": "quantitative"}, "y2": {"datum": 94.56}}},
{"data": {"values": [{"t": "Misrec."}]}, "mark": {"type": "text", "align": "left", "baseline": "alphabetic", "fontSize": 52, "font": "Liberation Sans", "color": "#111", "clip": false},
 "encoding": {"x": {"datum": 0.130761, "type": "quantitative"}, "y": {"datum": 97.92, "type": "quantitative"}, "text": {"field": "t"}}},
{"data": {"values": [{"t": "D"}]}, "mark": {"type": "text", "align": "left", "baseline": "alphabetic", "fontSize": 52, "font": "Liberation Serif", "fontStyle": "italic", "color": "#111", "clip": false},
 "encoding": {"x": {"datum": 0.140355, "type": "quantitative"}, "y": {"datum": 97.92, "type": "quantitative"}, "text": {"field": "t"}}},
{"data": {"values": [{"t": "0"}]}, "mark": {"type": "text", "align": "left", "baseline": "alphabetic", "fontSize": 32, "font": "Liberation Serif", "fontStyle": "italic", "color": "#111", "clip": false},
 "encoding": {"x": {"datum": 0.142384, "type": "quantitative"}, "y": {"datum": 103.95, "type": "quantitative"}, "text": {"field": "t"}}}
]
},
{
"width": 395, "height": 341,
"layer": [
{"data": {"name": "d5"}, "mark": {"type": "errorbar", "color": "black", "thickness": 1.6, "clip": true},
 "encoding": {
  "x": {"field": "x", "type": "quantitative", "scale": {"domain": [1.81, 1.92], "nice": false, "zero": false},
   "axis": {"title": null, "values": [1.81,1.815,1.82,1.825,1.83,1.835,1.84,1.845,1.85,1.855,1.86,1.865,1.87,1.875,1.88,1.885,1.89,1.895,1.9,1.905,1.91,1.915,1.92], "format": ".3~f",
    "labelExpr": "abs(datum.value*50-round(datum.value*50))<1e-6 && (datum.value < 1.85 || datum.value > 1.91) ? datum.label : ''",
    "tickSize": {"condition": {"test": "abs(datum.value*50-round(datum.value*50))<1e-6", "value": -12}, "value": -6}}},
  "y": {"field": "y", "type": "quantitative", "scale": {"domain": [0, 308], "nice": false, "zero": false},
   "axis": {"title": "Counts/0.55 MeV", "values": [0,10,20,30,40,50,60,70,80,90,100,110,120,130,140,150,160,170,180,190,200,210,220,230,240,250,260,270,280,290,300], "format": "d",
    "labelExpr": "datum.value % 50 == 0 ? datum.label : ''",
    "tickSize": {"condition": {"test": "datum.value % 50 == 0", "value": -12}, "value": -7}}},
  "yError": {"field": "e"}}},
{"data": {"name": "d5"}, "mark": {"type": "point", "filled": true, "size": 24, "color": "black", "opacity": 1, "clip": true},
 "encoding": {"x": {"field": "x", "type": "quantitative"}, "y": {"field": "y", "type": "quantitative"}}},
{"data": {"name": "f5"}, "mark": {"type": "line", "color": "black", "strokeWidth": 1.4, "interpolate": "monotone", "clip": true},
 "encoding": {"x": {"field": "x", "type": "quantitative"}, "y": {"field": "y", "type": "quantitative"}}},
{"data": {"values": [{"t": "Data"}]}, "mark": {"type": "point", "filled": true, "size": 22, "color": "black", "opacity": 1},
 "encoding": {"x": {"datum": 1.89058, "type": "quantitative"}, "y": {"datum": 106.6, "type": "quantitative"}}},
{"data": {"values": [{"t": "Data"}]}, "mark": {"type": "text", "align": "left", "baseline": "middle", "fontSize": 11, "color": "#333"},
 "encoding": {"x": {"datum": 1.89636, "type": "quantitative"}, "y": {"datum": 106.6, "type": "quantitative"}, "text": {"field": "t"}}},
{"data": {"values": [{"t": "RS Signal"}]}, "mark": {"type": "rect", "fill": "white", "stroke": "black", "strokeWidth": 1.2},
 "encoding": {"x": {"datum": 1.88646, "type": "quantitative"}, "x2": {"datum": 1.89443}, "y": {"datum": 69, "type": "quantitative"}, "y2": {"datum": 28.7}}},
{"data": {"values": [{"t": "RS Signal"}]}, "mark": {"type": "text", "align": "left", "baseline": "middle", "fontSize": 11, "color": "#333"},
 "encoding": {"x": {"datum": 1.89636, "type": "quantitative"}, "y": {"datum": 46.6, "type": "quantitative"}, "text": {"field": "t"}}},
{"data": {"values": [{"t": "dot"}]}, "mark": {"type": "point", "filled": true, "size": 70, "color": "#2e9a3e", "opacity": 1, "clip": false},
 "encoding": {"x": {"datum": 1.796633, "type": "quantitative"}, "y": {"datum": 67.74, "type": "quantitative"}}},
{"data": {"values": [{"t": "dot"}]}, "mark": {"type": "point", "filled": true, "size": 14, "color": "#2e9a3e", "opacity": 1, "clip": false},
 "encoding": {"x": {"datum": 1.796633, "type": "quantitative"}, "y": {"datum": 84.0, "type": "quantitative"}}},
{"data": {"values": [{"t": "G"}]}, "mark": {"type": "text", "align": "left", "baseline": "alphabetic", "fontSize": 35, "font": "Liberation Sans", "color": "#111", "clip": false},
 "encoding": {"x": {"datum": 1.789114, "type": "quantitative"}, "y": {"datum": -16.26, "type": "quantitative"}, "text": {"field": "t"}}},
{"data": {"values": [{"t": "m box"}]}, "mark": {"type": "rect", "fill": "white", "clip": false},
 "encoding": {"x": {"datum": 1.848431, "type": "quantitative"}, "x2": {"datum": 1.905518}, "y": {"datum": 18.06, "type": "quantitative"}, "y2": {"datum": -44.26}}},
{"data": {"values": [{"t": "m("}]}, "mark": {"type": "text", "align": "left", "baseline": "alphabetic", "fontSize": 44, "font": "Liberation Sans", "color": "#111", "clip": false},
 "encoding": {"x": {"datum": 1.849266, "type": "quantitative"}, "y": {"datum": -28.9, "type": "quantitative"}, "text": {"field": "t"}}},
{"data": {"values": [{"t": "K"}]}, "mark": {"type": "text", "align": "left", "baseline": "alphabetic", "fontSize": 56, "font": "Liberation Serif", "fontStyle": "italic", "color": "#111", "clip": false},
 "encoding": {"x": {"datum": 1.86319, "type": "quantitative"}, "y": {"datum": -28.9, "type": "quantitative"}, "text": {"field": "t"}}},
{"data": {"values": [{"t": "+"}]}, "mark": {"type": "text", "align": "left", "baseline": "alphabetic", "fontSize": 26, "font": "Liberation Sans", "color": "#111", "clip": false},
 "encoding": {"x": {"datum": 1.873215, "type": "quantitative"}, "y": {"datum": 6.32, "type": "quantitative"}, "text": {"field": "t"}}},
{"data": {"values": [{"t": "π"}]}, "mark": {"type": "text", "align": "left", "baseline": "alphabetic", "fontSize": 56, "font": "Liberation Serif", "fontStyle": "italic", "color": "#111", "clip": false},
 "encoding": {"x": {"datum": 1.876279, "type": "quantitative"}, "y": {"datum": -28.9, "type": "quantitative"}, "text": {"field": "t"}}},
{"data": {"values": [{"t": "−"}]}, "mark": {"type": "text", "align": "left", "baseline": "alphabetic", "fontSize": 26, "font": "Liberation Sans", "color": "#111", "clip": false},
 "encoding": {"x": {"datum": 1.885747, "type": "quantitative"}, "y": {"datum": 1.81, "type": "quantitative"}, "text": {"field": "t"}}},
{"data": {"values": [{"t": ")"}]}, "mark": {"type": "text", "align": "left", "baseline": "alphabetic", "fontSize": 44, "font": "Liberation Sans", "color": "#111", "clip": false},
 "encoding": {"x": {"datum": 1.89438, "type": "quantitative"}, "y": {"datum": -28.9, "type": "quantitative"}, "text": {"field": "t"}}}
]
},
{
"width": 394, "height": 341,
"layer": [
{"data": {"name": "d6"}, "mark": {"type": "errorbar", "color": "black", "thickness": 1.6, "clip": true},
 "encoding": {
  "x": {"field": "x", "type": "quantitative", "scale": {"domain": [0.14, 0.16], "nice": false, "zero": false},
   "axis": {"title": null, "values": [0.14,0.141,0.142,0.143,0.144,0.145,0.146,0.147,0.148,0.149,0.15,0.151,0.152,0.153,0.154,0.155,0.156,0.157,0.158,0.159,0.16], "format": ".3~f",
    "labelExpr": "abs(datum.value*200-round(datum.value*200))<1e-6 && abs(datum.value-0.15)>1e-6 ? datum.label : ''",
    "tickSize": {"condition": {"test": "abs(datum.value*200-round(datum.value*200))<1e-6", "value": -12}, "value": -6}}},
  "y": {"field": "y", "type": "quantitative", "scale": {"domain": [0, 325], "nice": false, "zero": false},
   "axis": {"title": "Counts/0.1 MeV", "values": [0,10,20,30,40,50,60,70,80,90,100,110,120,130,140,150,160,170,180,190,200,210,220,230,240,250,260,270,280,290,300,310,320], "format": "d",
    "labelExpr": "datum.value % 50 == 0 && datum.value != 300 ? datum.label : ''",
    "tickSize": {"condition": {"test": "datum.value % 50 == 0", "value": -12}, "value": -7}}},
  "yError": {"field": "e"}}},
{"data": {"name": "d6"}, "mark": {"type": "point", "filled": true, "size": 24, "color": "black", "opacity": 1, "clip": true},
 "encoding": {"x": {"field": "x", "type": "quantitative"}, "y": {"field": "y", "type": "quantitative"}}},
{"data": {"name": "f6"}, "mark": {"type": "line", "color": "black", "strokeWidth": 1.4, "interpolate": "monotone", "clip": true},
 "encoding": {"x": {"field": "x", "type": "quantitative"}, "y": {"field": "y", "type": "quantitative"}}},
{"data": {"values": [{"t": "Data"}]}, "mark": {"type": "point", "filled": true, "size": 22, "color": "black", "opacity": 1},
 "encoding": {"x": {"datum": 0.15485, "type": "quantitative"}, "y": {"datum": 108.7, "type": "quantitative"}}},
{"data": {"values": [{"t": "Data"}]}, "mark": {"type": "text", "align": "left", "baseline": "middle", "fontSize": 11, "color": "#333"},
 "encoding": {"x": {"datum": 0.1558, "type": "quantitative"}, "y": {"datum": 108.7, "type": "quantitative"}, "text": {"field": "t"}}},
{"data": {"values": [{"t": "RS Signal"}]}, "mark": {"type": "rect", "fill": "white", "stroke": "black", "strokeWidth": 1.2},
 "encoding": {"x": {"datum": 0.154, "type": "quantitative"}, "x2": {"datum": 0.15545}, "y": {"datum": 70.5, "type": "quantitative"}, "y2": {"datum": 27.6}}},
{"data": {"values": [{"t": "RS Signal"}]}, "mark": {"type": "text", "align": "left", "baseline": "middle", "fontSize": 11, "color": "#333"},
 "encoding": {"x": {"datum": 0.1558, "type": "quantitative"}, "y": {"datum": 46.7, "type": "quantitative"}, "text": {"field": "t"}}},
{"data": {"values": [{"t": "Comb box"}]}, "mark": {"type": "rect", "fill": "#d8d8ec", "clip": false},
 "encoding": {"x": {"datum": 0.127716, "type": "quantitative"}, "x2": {"datum": 0.146802}, "y": {"datum": 336.44, "type": "quantitative"}, "y2": {"datum": 276.39}}},
{"data": {"values": [{"t": "Combinatorial"}]}, "mark": {"type": "text", "align": "left", "baseline": "alphabetic", "fontSize": 54, "font": "Liberation Sans", "color": "#111", "clip": false},
 "encoding": {"x": {"datum": 0.128579, "type": "quantitative"}, "y": {"datum": 288.78, "type": "quantitative"}, "text": {"field": "t"}}},
{"data": {"values": [{"t": "dm box"}]}, "mark": {"type": "rect", "fill": "white", "clip": false},
 "encoding": {"x": {"datum": 0.147563, "type": "quantitative"}, "x2": {"datum": 0.153706}, "y": {"datum": 19.06, "type": "quantitative"}, "y2": {"datum": -46.7}}},
{"data": {"values": [{"t": "Δ"}]}, "mark": {"type": "text", "align": "left", "baseline": "alphabetic", "fontSize": 56, "font": "Liberation Serif", "fontStyle": "italic", "color": "#111", "clip": false},
 "encoding": {"x": {"datum": 0.147716, "type": "quantitative"}, "y": {"datum": -33.36, "type": "quantitative"}, "text": {"field": "t"}}},
{"data": {"values": [{"t": "m"}]}, "mark": {"type": "text", "align": "left", "baseline": "alphabetic", "fontSize": 46, "font": "Liberation Sans", "color": "#111", "clip": false},
 "encoding": {"x": {"datum": 0.149846, "type": "quantitative"}, "y": {"datum": -33.36, "type": "quantitative"}, "text": {"field": "t"}}}
]
}
],
"config": {
 "view": {"stroke": "black", "strokeWidth": 1.5},
 "axis": {"grid": false, "domain": false, "tickCount": 200, "tickColor": "black", "tickWidth": 1.2, "labelFont": "Liberation Sans", "labelFontSize": 16, "labelFontWeight": "bold", "labelColor": "#1a1a1a", "titleFont": "Liberation Sans", "titleFontWeight": "normal", "titleColor": "#1a1a1a", "labelOverlap": false, "labelFlush": false, "labelBound": false},
 "axisX": {"labelPadding": 18, "titleY": 29, "titleBaseline": "middle", "titleFontSize": 16},
 "axisY": {"labelPadding": 13, "titleX": -43, "titleBaseline": "middle", "titleFontSize": 15},
 "text": {"font": "Liberation Sans"}
}
}
